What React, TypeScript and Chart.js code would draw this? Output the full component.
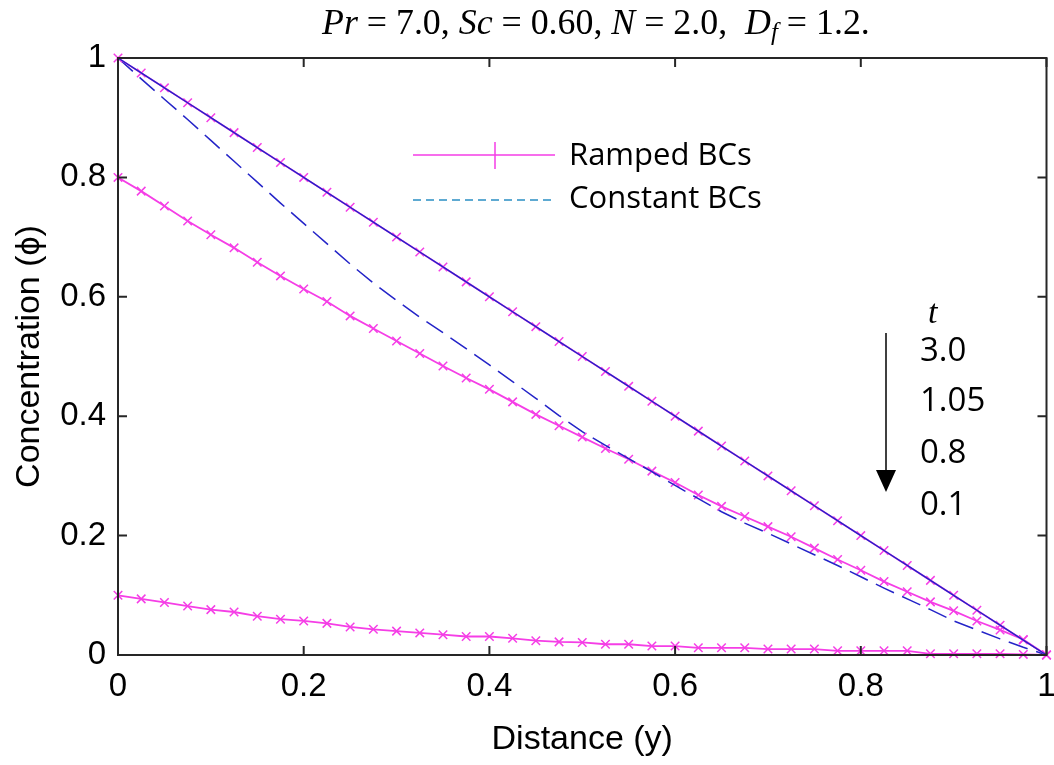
import React, { useEffect, useRef } from "react";
import { Chart, registerables } from "chart.js";

Chart.register(...registerables);

const distance = [0, 0.025, 0.05, 0.075, 0.1, 0.125, 0.15, 0.175, 0.2, 0.225, 0.25, 0.275, 0.3, 0.325, 0.35, 0.375, 0.4, 0.425, 0.45, 0.475, 0.5, 0.525, 0.55, 0.575, 0.6, 0.625, 0.65, 0.675, 0.7, 0.725, 0.75, 0.775, 0.8, 0.825, 0.85, 0.875, 0.9, 0.925, 0.95, 0.975, 1];

// Ramped BCs, t = 3.0 / 1.05 (coincide)
const rampedT30 = [1, 0.975, 0.95, 0.925, 0.9, 0.875, 0.85, 0.825, 0.8, 0.775, 0.75, 0.725, 0.7, 0.675, 0.65, 0.625, 0.6, 0.575, 0.55, 0.525, 0.5, 0.475, 0.45, 0.425, 0.4, 0.375, 0.35, 0.325, 0.3, 0.275, 0.25, 0.225, 0.2, 0.175, 0.15, 0.125, 0.1, 0.075, 0.05, 0.025, 0];
// Constant BCs, t = 3.0 / 1.05
const constantT30 = [1, 0.975, 0.95, 0.925, 0.9, 0.875, 0.85, 0.825, 0.8, 0.775, 0.75, 0.725, 0.7, 0.675, 0.65, 0.625, 0.6, 0.575, 0.55, 0.525, 0.5, 0.475, 0.45, 0.425, 0.4, 0.375, 0.35, 0.325, 0.3, 0.275, 0.25, 0.225, 0.2, 0.175, 0.15, 0.125, 0.1, 0.075, 0.05, 0.025, 0];
// Ramped BCs, t = 0.8
const rampedT08 = [0.8, 0.777, 0.752, 0.727, 0.704, 0.682, 0.658, 0.635, 0.613, 0.592, 0.568, 0.547, 0.526, 0.505, 0.484, 0.464, 0.445, 0.424, 0.403, 0.384, 0.365, 0.346, 0.328, 0.308, 0.289, 0.268, 0.249, 0.232, 0.215, 0.198, 0.179, 0.16, 0.142, 0.123, 0.106, 0.089, 0.074, 0.057, 0.042, 0.026, 0];
// Constant BCs, t = 0.8
const constantT08 = [1, 0.965, 0.931, 0.897, 0.862, 0.827, 0.792, 0.757, 0.723, 0.689, 0.655, 0.623, 0.594, 0.566, 0.54, 0.513, 0.486, 0.458, 0.43, 0.401, 0.374, 0.351, 0.329, 0.307, 0.284, 0.262, 0.24, 0.221, 0.204, 0.186, 0.168, 0.15, 0.131, 0.112, 0.094, 0.076, 0.057, 0.042, 0.027, 0.013, 0];
// Ramped BCs, t = 0.1
const rampedT01 = [0.1, 0.094, 0.088, 0.082, 0.076, 0.072, 0.065, 0.06, 0.057, 0.053, 0.047, 0.043, 0.04, 0.037, 0.034, 0.031, 0.031, 0.028, 0.024, 0.022, 0.021, 0.018, 0.018, 0.015, 0.015, 0.012, 0.012, 0.012, 0.01, 0.01, 0.01, 0.007, 0.007, 0.007, 0.007, 0.002, 0.002, 0.002, 0.002, 0.001, 0];

const timeLabels = ["3.0", "1.05", "0.8", "0.1"];
const legendLabels = ["Ramped BCs", "Constant BCs"];
const xTitle = "Distance (y)";
const yTitle = "Concentration (\u03d5)";

const MAGENTA = "#f53ee6";
const BLUE = "#2424c8";
const TEAL = "#2a8fc4";

function pts(ys: number[]) {
  return distance.map((x, i) => ({ x, y: ys[i] }));
}

const fmt = (v: any) => `${Math.round(Number(v) * 10) / 10}`;

const overlayPlugin = {
  id: "overlay",
  afterDraw(chart: any) {
    const ctx = chart.ctx as CanvasRenderingContext2D;
    const { left, right, top, bottom } = chart.chartArea;
    const xs = chart.scales.x;
    const ys = chart.scales.y;
    ctx.save();
    // frame
    ctx.strokeStyle = "#262626";
    ctx.lineWidth = 2;
    ctx.strokeRect(left, top, right - left, bottom - top);
    // inward ticks
    const tl = 9;
    ctx.beginPath();
    xs.ticks.forEach((t: any) => {
      const px = xs.getPixelForValue(t.value);
      ctx.moveTo(px, bottom);
      ctx.lineTo(px, bottom - tl);
      ctx.moveTo(px, top);
      ctx.lineTo(px, top + tl);
    });
    ys.ticks.forEach((t: any) => {
      const py = ys.getPixelForValue(t.value);
      ctx.moveTo(left, py);
      ctx.lineTo(left + tl, py);
      ctx.moveTo(right, py);
      ctx.lineTo(right - tl, py);
    });
    ctx.stroke();

    // axis titles
    ctx.fillStyle = "#000";
    ctx.font = "34px 'Liberation Sans', Arial, sans-serif";
    ctx.textAlign = "center";
    ctx.textBaseline = "middle";
    ctx.fillText(xTitle, (left + right) / 2, 740);
    ctx.save();
    ctx.translate(30, (top + bottom) / 2);
    ctx.rotate(-Math.PI / 2);
    ctx.fillText(yTitle, 0, 0);
    ctx.restore();

    // title with math styling
    const segs: { t: string; it: boolean; sub?: boolean }[] = [
      { t: "Pr", it: true },
      { t: " = 7.0, ", it: false },
      { t: "Sc", it: true },
      { t: " = 0.60, ", it: false },
      { t: "N", it: true },
      { t: " = 2.0,  ", it: false },
      { t: "D", it: true },
      { t: "f", it: true, sub: true },
      { t: " = 1.2.", it: false },
    ];
    const fam = "'Liberation Serif', 'DejaVu Serif', serif";
    const fontFor = (s: any, size: number) =>
      `${s.it ? "italic " : ""}${s.sub ? Math.round(size * 0.7) : size}px ${fam}`;
    const measure = (size: number) =>
      segs.reduce((w, s) => {
        ctx.font = fontFor(s, size);
        return w + ctx.measureText(s.t).width;
      }, 0);
    let size = 27;
    const target = 548;
    size = size * (target / measure(size));
    let cx = 322;
    ctx.textAlign = "left";
    ctx.textBaseline = "alphabetic";
    segs.forEach((s) => {
      ctx.font = fontFor(s, size);
      ctx.fillText(s.t, cx, s.sub ? 40 : 34);
      cx += ctx.measureText(s.t).width;
    });

    // legend
    ctx.lineWidth = 1.5;
    ctx.strokeStyle = MAGENTA;
    ctx.beginPath();
    ctx.moveTo(413, 155);
    ctx.lineTo(555, 155);
    ctx.moveTo(495, 142);
    ctx.lineTo(495, 169);
    ctx.stroke();
    ctx.strokeStyle = TEAL;
    ctx.setLineDash([8, 5]);
    ctx.beginPath();
    ctx.moveTo(413, 200);
    ctx.lineTo(555, 200);
    ctx.stroke();
    ctx.setLineDash([]);
    ctx.fillStyle = "#000";
    ctx.font = "31px 'Open Sans', sans-serif";
    ctx.textBaseline = "middle";
    ctx.fillText(legendLabels[0], 569, 156);
    ctx.fillText(legendLabels[1], 569, 199);

    // t annotation
    ctx.font = "italic 34px 'Liberation Serif', serif";
    ctx.fillText("t", 928, 314);
    ctx.font = "33px 'Open Sans', sans-serif";
    const ty = [352, 402, 454, 506];
    timeLabels.forEach((lab, i) => ctx.fillText(lab, 920, ty[i]));

    // arrow
    ctx.strokeStyle = "#000";
    ctx.lineWidth = 1.5;
    ctx.beginPath();
    ctx.moveTo(886, 333);
    ctx.lineTo(886, 472);
    ctx.stroke();
    ctx.fillStyle = "#000";
    ctx.beginPath();
    ctx.moveTo(876, 470);
    ctx.lineTo(896, 470);
    ctx.lineTo(886, 492);
    ctx.closePath();
    ctx.fill();
    ctx.restore();
  },
};

export default function App() {
  const ref = useRef<HTMLCanvasElement | null>(null);
  useEffect(() => {
    if (!ref.current) return;
    const ramped = (data: number[], order: number) => ({
      data: pts(data),
      borderColor: MAGENTA,
      borderWidth: 1.8,
      pointStyle: "crossRot",
      pointRadius: 6,
      pointBorderWidth: 1.5,
      pointBorderColor: MAGENTA,
      pointBackgroundColor: MAGENTA,
      clip: false as any,
      order,
    });
    const chart = new Chart(ref.current, {
      type: "line",
      data: {
        datasets: [
          {
            data: pts(constantT30),
            borderColor: BLUE,
            borderWidth: 1.4,
            pointRadius: 0,
            order: 0,
          },
          ramped(rampedT30, 1),
          {
            data: pts(constantT08),
            borderColor: BLUE,
            borderWidth: 1.5,
            borderDash: [20, 9],
            pointRadius: 0,
            order: 2,
          },
          ramped(rampedT08, 3),
          ramped(rampedT01, 4),
        ] as any,
      },
      options: {
        animation: false,
        responsive: false,
        devicePixelRatio: 1,
        layout: { padding: { top: 58, right: 4, left: 0, bottom: 0 } },
        plugins: { legend: { display: false }, tooltip: { enabled: false }, title: { display: false } },
        elements: { line: { tension: 0 } },
        scales: {
          x: {
            type: "linear",
            min: 0,
            max: 1,
            ticks: {
              stepSize: 0.2,
              color: "#000",
              padding: 12,
              font: { family: "'Liberation Sans', Arial, sans-serif", size: 33 },
              maxRotation: 0,
              callback: fmt,
            },
            grid: { display: false, drawTicks: false },
            border: { display: false },
            afterFit: (s: any) => {
              s.height = 110;
              s.paddingLeft = 0;
              s.paddingRight = 0;
            },
          },
          y: {
            type: "linear",
            min: 0,
            max: 1,
            ticks: {
              stepSize: 0.2,
              color: "#000",
              padding: 12,
              font: { family: "'Liberation Sans', Arial, sans-serif", size: 33 },
              callback: fmt,
            },
            grid: { display: false, drawTicks: false },
            border: { display: false },
            afterFit: (s: any) => {
              s.width = 118;
              s.paddingTop = 0;
              s.paddingBottom = 0;
            },
          },
        },
      },
      plugins: [overlayPlugin],
    });
    return () => chart.destroy();
  }, []);
  return (
    <div style={{ position: "fixed", left: 0, top: 0, width: 1054, height: 765, background: "#fff" }}>
      <canvas ref={ref} width={1054} height={765} style={{ width: 1054, height: 765 }} />
    </div>
  );
}
